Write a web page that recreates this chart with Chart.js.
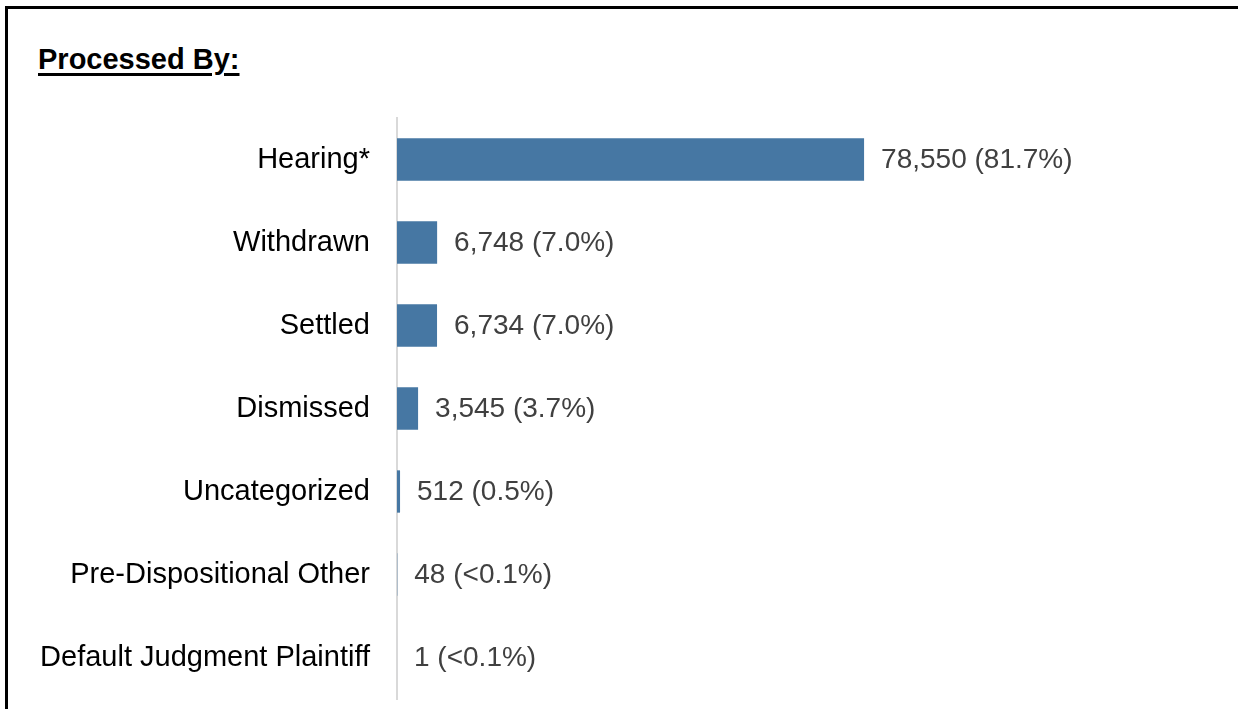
<!DOCTYPE html>
<html>
<head>
<meta charset="utf-8">
<title>Processed By</title>
<script src="https://cdn.jsdelivr.net/npm/chart.js@4/dist/chart.umd.min.js"></script>
<style>
  html, body { margin: 0; padding: 0; background: #fff; }
  #wrap { position: relative; width: 1238px; height: 709px; overflow: hidden; }
  #frame {
    position: absolute; left: 5px; top: 6px; width: 1300px; height: 800px;
    border-top: 3px solid #000; border-left: 3px solid #000;
  }
  #title {
    position: absolute; left: 38px; top: 45px; margin: 0;
    font: bold 29px "Liberation Sans", Arial, sans-serif; line-height: 29px;
    color: #000; text-decoration: underline;
    text-decoration-thickness: 3px; text-underline-offset: 4px;
  }
  #chart_bar { position: absolute; left: 0; top: 0; }
</style>
</head>
<body>
<div id="wrap">
  <div id="frame"></div>
  <div id="title">Processed By:</div>
  <canvas id="chart_bar" width="1238" height="709"></canvas>
</div>
<script>
	var categorias = [
		"Hearing*",
		"Withdrawn",
		"Settled",
		"Dismissed",
		"Uncategorized",
		"Pre-Dispositional Other",
		"Default Judgment Plaintiff"
	];
	var cantidades = [78550, 6748, 6734, 3545, 512, 48, 1];

	var total = 0;
	cantidades.forEach(function(v){ total += v; });

	// texto "cantidad (porcentaje)" a la derecha de cada barra
	function etiqueta(v){
		var pct = v / total * 100;
		var txt = pct < 0.1 ? "<0.1%" : pct.toFixed(1) + "%";
		return v.toLocaleString("en-US") + " (" + txt + ")";
	}

	var etiquetasValor = {
		id: "etiquetasValor",
		afterDatasetsDraw: function(chart){
			var ctx = chart.ctx;
			var meta = chart.getDatasetMeta(0);
			ctx.save();
			ctx.font = '28px "Liberation Sans", Arial, sans-serif';
			ctx.fillStyle = "#404040";
			ctx.textAlign = "left";
			ctx.textBaseline = "middle";
			meta.data.forEach(function(bar, i){
				ctx.fillText(etiqueta(cantidades[i]), bar.x + 17, bar.y + 1);
			});
			ctx.restore();
		}
	};

	var datos = {
		type: "bar",
		data: {
			labels: categorias,
			datasets: [{
				data: cantidades,
				backgroundColor: "#4677a3",
				borderWidth: 0,
				categoryPercentage: 1,
				barPercentage: 0.51
			}]
		},
		options: {
			indexAxis: "y",
			responsive: false,
			animation: false,
			layout: { padding: { top: 118, bottom: 10, left: 0, right: 68 } },
			plugins: {
				legend: { display: false },
				tooltip: { enabled: false }
			},
			scales: {
				x: { display: false, min: 0, max: 130000 },
				y: {
					// ancho fijo del eje y sin relleno extra arriba/abajo
					afterFit: function(scale){
						scale.width = 397;
						scale.paddingTop = 0;
						scale.paddingBottom = 0;
					},
					grid: { display: false, drawTicks: false },
					border: { display: true, color: "#d9d9d9", width: 2 },
					ticks: {
						padding: 27,
						color: "#000",
						font: { family: '"Liberation Sans", Arial, sans-serif', size: 29 }
					}
				}
			}
		},
		plugins: [etiquetasValor]
	};

	var canvas = document.getElementById("chart_bar").getContext("2d");
	window.barras = new Chart(canvas, datos);
</script>
</body>
</html>
